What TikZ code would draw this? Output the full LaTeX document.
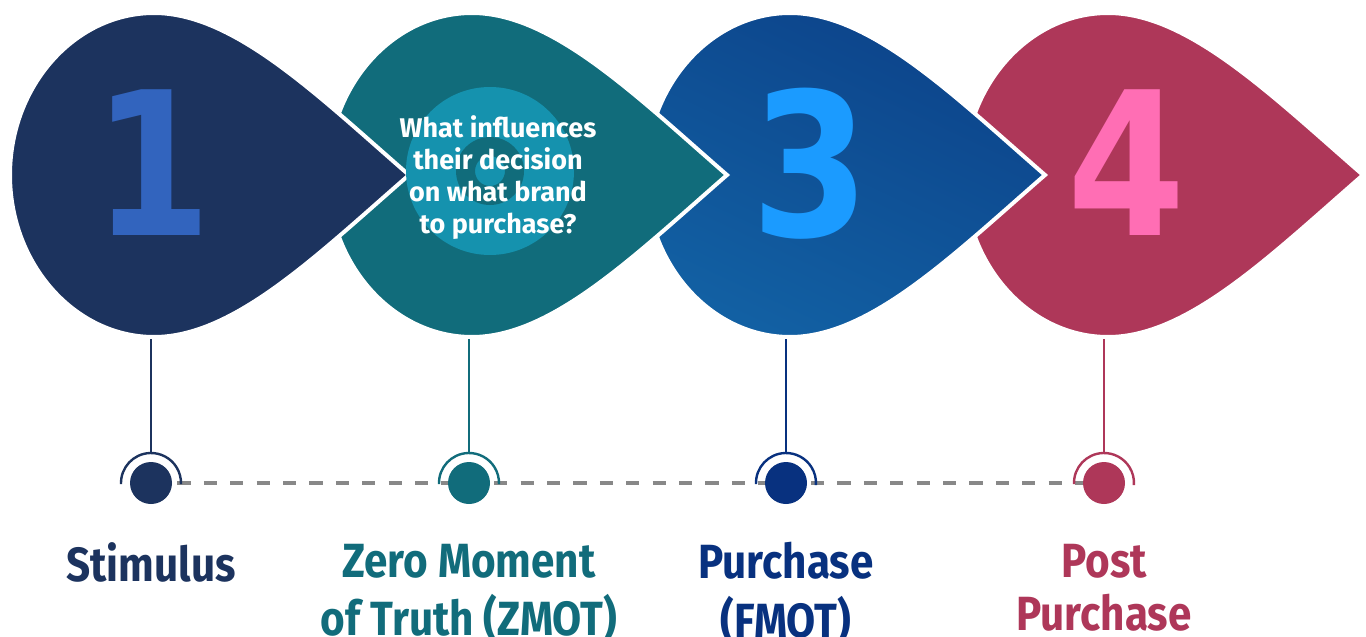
\documentclass[tikz,border=0pt]{standalone}
\usepackage{fontspec}
\setmainfont{Fira Sans}
\newfontfamily\labelfont{Fira Sans}[FakeStretch=0.88]
\newfontfamily\digitfont{DejaVu Sans}[FakeStretch=0.85]
\usepackage{xcolor}
\usepackage{tikz}
\usetikzlibrary{positioning, calc}

\definecolor{stimnavy}{HTML}{1C335E}
\definecolor{onefill}{HTML}{3264BE}
\definecolor{zmotteal}{HTML}{116C7B}
\definecolor{zmotlight}{HTML}{1592AE}
\definecolor{buytop}{HTML}{0C438A}
\definecolor{buybottom}{HTML}{1260A3}
\definecolor{threefill}{HTML}{1B9BFF}
\definecolor{buydot}{HTML}{08317F}
\definecolor{postred}{HTML}{AE3759}
\definecolor{fourfill}{HTML}{FF6EB4}
\definecolor{dashgray}{HTML}{888888}

\begin{document}
\begin{tikzpicture}[x=0.5pt, y=0.5pt,
  dropshape/.style={insert path={(0,162) .. controls (-79,162) and (-144,89) .. (-144,0)
      .. controls (-144,-89) and (-79,-162) .. (0,-162)
      .. controls (80,-162) and (163,-80) .. (255,0)
      .. controls (163,80) and (80,162) .. (0,162) -- cycle}},
  dropedge/.style={draw=white, line width=2pt},
  stagedot/.style={circle, fill=#1, minimum size=21pt, inner sep=0pt},
  stem/.style={draw=#1, line width=1.2pt},
  bignum/.style={anchor=base, inner sep=0pt, font=\digitfont\bfseries\fontsize{100}{100}\selectfont},
  steplabel/.style={anchor=north, align=center, inner sep=0pt, font=\labelfont\bfseries\fontsize{24}{25}\selectfont}]
  \useasboundingbox (0,0) rectangle (1366,-637);

  % Dot centres on the time line
  \coordinate (p1) at (151,-483);
  \coordinate (p2) at (469,-483);
  \coordinate (p3) at (786,-483);
  \coordinate (p4) at (1104,-483);

  % Stems hang from the bottom of each drop
  \coordinate (b1) at (151,-330);
  \coordinate (b2) at (469,-330);
  \coordinate (b3) at (786,-330);
  \coordinate (b4) at (1104,-330);
  \draw[stem=stimnavy] (b1) -- ($(p1)+(0,30)$);
  \draw[stem=zmotteal] (b2) -- ($(p2)+(0,30)$);
  \draw[stem=buydot] (b3) -- ($(p3)+(0,30)$);
  \draw[stem=postred] (b4) -- ($(p4)+(0,30)$);

  % Dashed time line
  \draw[dashgray, line width=2pt, dash pattern=on 6.6pt off 6.6pt] (p1) -- (p4);

  % Drops, last one first so each overlaps the next
  \path[fill=postred, dropedge, shift={(1108,-175)}, dropshape];
  \path[top color=buytop, bottom color=buybottom, shading angle=-25, dropedge, shift={(790,-175)}, dropshape];
  \path[fill=zmotteal, dropedge, shift={(472,-175)}, dropshape];
  \path[fill=stimnavy, dropedge, shift={(154,-175)}, dropshape];

  % Target behind the question
  \fill[zmotlight] (490,-171) circle[radius=84];
  \fill[zmotteal, even odd rule] (490,-171) circle[radius=34] circle[radius=15];

  % Big numbers
  \node[bignum, text=onefill] (n1) at (153,-235) {1};
  \node[bignum, text=threefill] (n3) at (811,-236) {3};
  \node[bignum, text=fourfill] (n4) at (1127,-235) {4};

  % Question in the second drop
  \node[anchor=north, align=center, inner sep=0pt, text=white,
        font=\bfseries\fontsize{13.5}{16}\selectfont] (q2) at (498,-115)
        {\strut What influences\\their decision\\on what brand\\to purchase?};

  % Dots and their half rings
  \node[stagedot=stimnavy] (d1) at (p1) {};
  \node[stagedot=zmotteal] (d2) at (p2) {};
  \node[stagedot=buydot] (d3) at (p3) {};
  \node[stagedot=postred] (d4) at (p4) {};
  \draw[stem=stimnavy] (p1) ++(182:30) arc[start angle=182, end angle=-2, radius=30];
  \draw[stem=zmotteal] (p2) ++(182:30) arc[start angle=182, end angle=-2, radius=30];
  \draw[stem=buydot] (p3) ++(182:30) arc[start angle=182, end angle=-4, radius=30];
  \draw[stem=postred] (p4) ++(182:30) arc[start angle=182, end angle=-4, radius=30];

  % Stage names
  \node[steplabel, text=stimnavy, below=29.5pt of d1.center] (l1) {\strut Stimulus};
  \node[steplabel, text=zmotteal, below=29.5pt of d2.center] (l2) {\strut Zero Moment\\of Truth (ZMOT)};
  \node[steplabel, text=buydot, below=29.5pt of d3.center] (l3) {\strut Purchase\\(FMOT)};
  \node[steplabel, text=postred, below=29.5pt of d4.center] (l4) {\strut Post\\Purchase};
\end{tikzpicture}
\end{document}
